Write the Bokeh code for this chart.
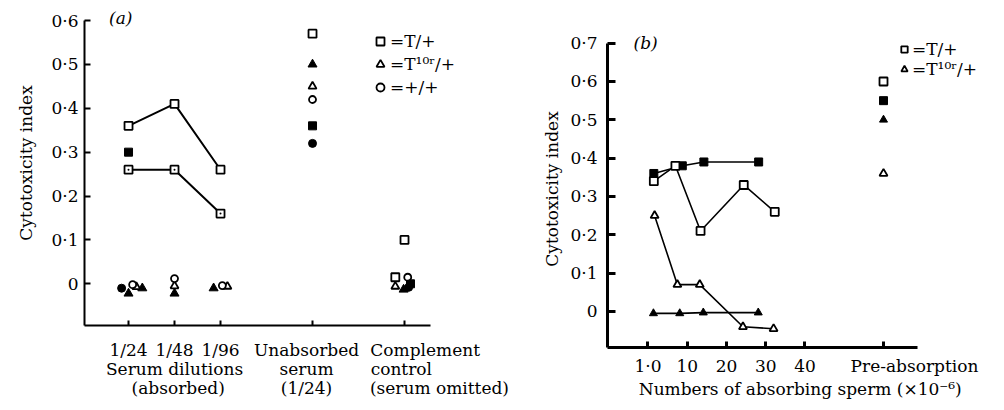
from bokeh.plotting import figure
from bokeh.models import FixedTicker, Label, Legend, LegendItem, Range1d, LinearAxis
from bokeh.layouts import row
from bokeh.embed import file_html
from bokeh.resources import INLINE

FONT = "DejaVu Serif"
FS = "17px"

# ---------------- data: panel (a) ----------------
a_tick_pos = [1, 2, 3, 5, 7]
a_row1_labels = ["1/24", "1/48", "1/96", "Unabsorbed", "Complement"]
a_row2_labels = ["Serum dilutions", "serum", "control"]
a_row3_labels = ["(absorbed)", "(1/24)", "(serum omitted)"]
a_y_ticks = [0, 0.1, 0.2, 0.3, 0.4, 0.5, 0.6]
a_y_labels = ["0", "0·1", "0·2", "0·3", "0·4", "0·5", "0·6"]

a_line1_x = [1, 2, 3]
a_line1_y = [0.36, 0.41, 0.26]
a_line2_x = [1, 2, 3]
a_line2_y = [0.26, 0.26, 0.16]
a_osq_x = [5, 7, 6.8]
a_osq_y = [0.57, 0.10, 0.015]
a_fsq_x = [1, 5, 7.13]
a_fsq_y = [0.30, 0.36, 0.0]
a_ftri_x = [1.0, 1.3, 2.0, 2.85, 5, 6.98]
a_ftri_y = [-0.022, -0.01, -0.022, -0.01, 0.50, -0.013]
a_otri_x = [1.17, 2.0, 3.15, 5, 6.8]
a_otri_y = [-0.007, -0.005, -0.006, 0.45, -0.006]
a_fcir_x = [0.85, 5, 7.09]
a_fcir_y = [-0.01, 0.32, -0.008]
a_ocir_x = [1.09, 2.0, 3.04, 5, 7.07]
a_ocir_y = [-0.002, 0.012, -0.004, 0.42, 0.015]
a_legend = ["=T/+", "=T¹⁰ʳ/+", "=+/+"]

# ---------------- data: panel (b) ----------------
b_x_ticks = [0, 10, 20, 30, 40, 60]
b_row1_labels = ["1·0", "10", "20", "30", "40", "Pre-absorption"]
b_x_title = "Numbers of absorbing sperm (×10⁻⁶)"
b_y_ticks = [0, 0.1, 0.2, 0.3, 0.4, 0.5, 0.6, 0.7]
b_y_labels = ["0", "0·1", "0·2", "0·3", "0·4", "0·5", "0·6", "0·7"]

b_fsq_x = [1.5, 8.75, 14.25, 28.2]
b_fsq_y = [0.36, 0.38, 0.39, 0.39]
b_osq_x = [1.5, 7.0, 13.4, 24.4, 32.3]
b_osq_y = [0.34, 0.38, 0.21, 0.33, 0.26]
b_otri_x = [1.7, 7.5, 13.2, 24.2, 32.0]
b_otri_y = [0.25, 0.07, 0.07, -0.04, -0.045]
b_ftri_x = [1.4, 8.1, 14.1, 28.1]
b_ftri_y = [-0.005, -0.005, -0.003, -0.003]
b_pre_x = 60
b_pre_osq = 0.60
b_pre_fsq = 0.55
b_pre_ftri = 0.50
b_pre_otri = 0.36
b_legend = ["=T/+", "=T¹⁰ʳ/+"]


def style_axes(p, lw, ytick_in, xtick_in, ystand):
    p.xgrid.visible = False
    p.ygrid.visible = False
    p.outline_line_color = None
    p.background_fill_color = "white"
    p.border_fill_color = "white"
    for ax in (p.xaxis[0], p.yaxis[0]):
        ax.axis_line_width = lw
        ax.axis_line_color = "black"
        ax.major_tick_line_width = lw
        ax.major_tick_line_color = "black"
        ax.major_tick_out = 0
        ax.minor_tick_in = 0
        ax.minor_tick_out = 0
        ax.major_label_text_font = FONT
        ax.major_label_text_font_size = FS
        ax.major_label_text_color = "black"
        ax.axis_label_text_font = FONT
        ax.axis_label_text_font_size = FS
        ax.axis_label_text_font_style = "normal"
        ax.axis_label_text_color = "black"
    p.yaxis[0].major_tick_in = ytick_in
    p.xaxis[0].major_tick_in = xtick_in
    p.yaxis[0].major_label_standoff = ystand
    # bottom axis only draws its line + ticks; the label rows come from extra axes
    p.xaxis[0].major_label_text_font_size = "0px"
    p.xaxis[0].major_label_text_color = None
    p.xaxis[0].major_label_standoff = 0


def text_row(p, ticks, labels, standoff):
    ax = LinearAxis(ticker=FixedTicker(ticks=ticks),
                    major_label_overrides=dict(zip(ticks, labels)),
                    axis_line_color=None, major_tick_line_color=None,
                    minor_tick_line_color=None, major_tick_in=0, major_tick_out=0,
                    minor_tick_in=0, minor_tick_out=0, major_label_standoff=standoff,
                    major_label_text_font=FONT, major_label_text_font_size=FS,
                    major_label_text_color="black")
    p.add_layout(ax, "below")


def lab(p, x, y, text, style="normal"):
    p.add_layout(Label(x=x, y=y, text=text, text_align="center", text_baseline="middle",
                       text_font=FONT, text_font_size=FS, text_font_style=style,
                       text_color="black"))


def open_m(p, x, y, marker, size):
    return p.scatter(x=x, y=y, marker=marker, size=size, fill_color="white",
                     line_color="black", line_width=1.8)


def fill_m(p, x, y, marker, size):
    return p.scatter(x=x, y=y, marker=marker, size=size, fill_color="black",
                     line_color="black", line_width=1)


# ================= panel (a) =================
pa = figure(width=514, height=410, x_range=Range1d(0.043, 9.304), y_range=Range1d(-0.095, 0.6456),
            output_backend="svg", toolbar_location=None, frame_align=False,
            min_border_left=84, min_border_right=4, min_border_top=0, min_border_bottom=85)
style_axes(pa, 2, 6, 5, 6)
pa.yaxis[0].ticker = FixedTicker(ticks=a_y_ticks)
pa.yaxis[0].major_label_overrides = dict(zip(a_y_ticks, a_y_labels))
pa.yaxis[0].bounds = (-0.095, 0.6)
pa.yaxis[0].axis_label = "Cytotoxicity index"
pa.yaxis[0].axis_label_standoff = 12
pa.xaxis[0].ticker = FixedTicker(ticks=a_tick_pos)
pa.xaxis[0].bounds = (0.043, 7.565)

# label rows: dilution ticks centred; Unabsorbed block slightly left; Complement block left-aligned
text_row(pa, [1, 2, 3, 4.87, 7.45], a_row1_labels, 14)
text_row(pa, [2, 4.87, 6.93], a_row2_labels, -4)
text_row(pa, [2.08, 4.87, 7.76], a_row3_labels, -4)

pa.line(a_line1_x, a_line1_y, line_color="black", line_width=2)
pa.line(a_line2_x, a_line2_y, line_color="black", line_width=2)
r_sq = open_m(pa, a_line1_x, a_line1_y, "square", 8)
pa.scatter(x=a_line2_x, y=a_line2_y, marker="square_dot", size=8, fill_color="white",
           line_color="black", line_width=1.8)
open_m(pa, a_osq_x, a_osq_y, "square", 8)
fill_m(pa, a_fsq_x, a_fsq_y, "square", 8)
fill_m(pa, a_ftri_x, a_ftri_y, "triangle", 9)
r_tri = open_m(pa, a_otri_x, a_otri_y, "triangle", 8)
fill_m(pa, a_fcir_x, a_fcir_y, "circle", 8)
r_cir = open_m(pa, a_ocir_x, a_ocir_y, "circle", 7)

leg_a = Legend(items=[LegendItem(label=a_legend[0], renderers=[r_sq]),
                      LegendItem(label=a_legend[1], renderers=[r_tri]),
                      LegendItem(label=a_legend[2], renderers=[r_cir])],
               location=(286, 228), glyph_width=20, glyph_height=20, label_standoff=0,
               spacing=3, padding=0, margin=0, label_height=20,
               label_text_font=FONT, label_text_font_size=FS, label_text_color="black",
               border_line_color=None, background_fill_alpha=0)
pa.add_layout(leg_a)

lab(pa, 0.83, 0.605, "(a)", style="italic")

# ================= panel (b) =================
pb = figure(width=490, height=410, x_range=Range1d(-10.3, 89.8), y_range=Range1d(-0.094, 0.733),
            output_backend="svg", toolbar_location=None, frame_align=False,
            min_border_left=93, min_border_right=4, min_border_top=30, min_border_bottom=63)
style_axes(pb, 3, 8, 6, 10)
pb.yaxis[0].ticker = FixedTicker(ticks=b_y_ticks)
pb.yaxis[0].major_label_overrides = dict(zip(b_y_ticks, b_y_labels))
pb.yaxis[0].bounds = (-0.094, 0.7)
pb.yaxis[0].axis_label = "Cytotoxicity index"
pb.yaxis[0].axis_label_standoff = 5
pb.xaxis[0].ticker = FixedTicker(ticks=b_x_ticks)
pb.xaxis[0].bounds = (-10.3, 68.6)

text_row(pb, b_x_ticks[:5] + [67.9], b_row1_labels, 8)
text_row(pb, [38.8], [b_x_title], 0)

for xs, ys in ((b_fsq_x, b_fsq_y), (b_osq_x, b_osq_y), (b_otri_x, b_otri_y), (b_ftri_x, b_ftri_y)):
    pb.line(xs, ys, line_color="black", line_width=1.6)
fill_m(pb, b_fsq_x + [b_pre_x], b_fsq_y + [b_pre_fsq], "square", 8)
rb_sq = open_m(pb, b_osq_x + [b_pre_x], b_osq_y + [b_pre_osq], "square", 8)
rb_tri = open_m(pb, b_otri_x + [b_pre_x], b_otri_y + [b_pre_otri], "triangle", 8)
fill_m(pb, b_ftri_x + [b_pre_x], b_ftri_y + [b_pre_ftri], "triangle", 8)

leg_b = Legend(items=[LegendItem(label=b_legend[0], renderers=[rb_sq]),
                      LegendItem(label=b_legend[1], renderers=[rb_tri])],
               location=(289, 268), glyph_width=16, glyph_height=16, label_standoff=0,
               spacing=0, padding=0, margin=0, label_height=18,
               label_text_font=FONT, label_text_font_size=FS, label_text_color="black",
               border_line_color=None, background_fill_alpha=0)
pb.add_layout(leg_b)

lab(pb, -0.6, 0.70, "(b)", style="italic")

layout = row(pa, pb)
open("out.html", "w").write(file_html(layout, INLINE))
